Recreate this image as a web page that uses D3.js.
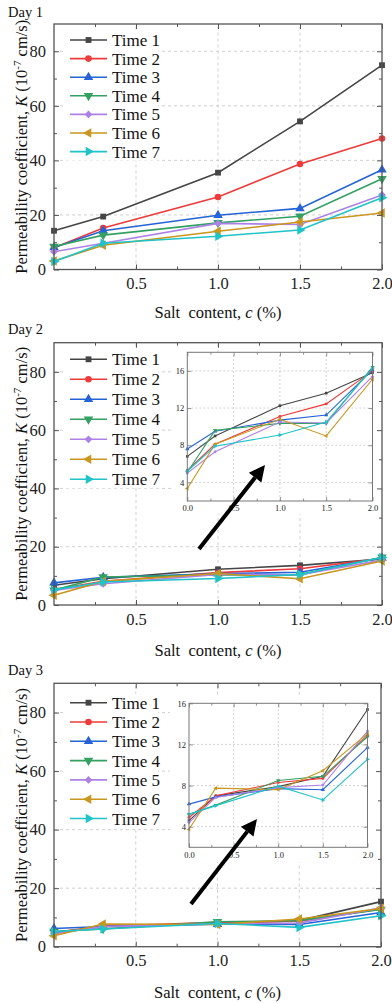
<!DOCTYPE html>
<html><head><meta charset="utf-8">
<script src="https://cdn.jsdelivr.net/npm/d3@7"></script>
<style>body{margin:0;background:#fff}svg{display:block}</style>
</head><body>
<svg id="fig" width="392" height="1003"></svg>
<script>
// Salt content (%) at which each permeability test was run
const saltContent = [0, 0.3, 1.0, 1.5, 2.0];
const seriesNames = ["Time 1", "Time 2", "Time 3", "Time 4", "Time 5", "Time 6", "Time 7"];
const seriesColors = ["#454545", "#ee3a3a", "#2563d6", "#34a062", "#ad82e6", "#c9961e", "#1fc3c8"];

// Permeability coefficient K (1e-7 cm/s), one row per test time
const day1K = [
  [14.2, 19.4, 35.5, 54.3, 74.9],
  [8.0, 15.2, 26.6, 38.7, 48.0],
  [8.1, 14.2, 19.9, 22.4, 36.6],
  [8.4, 12.6, 17.1, 19.5, 33.3],
  [6.5, 9.6, 16.9, 16.5, 27.3],
  [3.1, 8.9, 14.0, 17.4, 20.7],
  [2.9, 9.6, 12.2, 14.5, 26.3]
];
const day2K = [
  [6.8, 9.0, 12.25, 13.6, 15.8],
  [5.3, 8.1, 11.1, 12.45, 16.0],
  [7.6, 9.5, 10.7, 11.25, 16.1],
  [5.1, 9.6, 10.35, 10.35, 16.4],
  [5.0, 7.3, 10.5, 10.4, 15.4],
  [3.35, 8.1, 10.8, 9.0, 15.1],
  [5.2, 7.9, 9.1, 10.5, 16.3]
];
const day3K = [
  [4.6, 7.0, 7.9, 8.9, 15.4],
  [4.9, 7.0, 8.3, 8.7, 12.9],
  [6.2, 6.9, 7.7, 7.6, 11.7],
  [5.2, 6.1, 8.5, 8.9, 12.75],
  [4.4, 6.85, 7.8, 8.05, 13.3],
  [3.75, 7.75, 7.6, 9.45, 13.05],
  [5.2, 6.05, 7.95, 6.6, 10.55]
];

const xTicks = [0.5, 1.0, 1.5, 2.0];
const yTicks = [0, 20, 40, 60, 80];
const insetXTicks = [0.0, 0.5, 1.0, 1.5, 2.0];
const insetYTicks = [4, 8, 12, 16];

const FONT = "'Liberation Serif','Times New Roman',serif";
const svg = d3.select("#fig");

const markers = [
  {type: d3.symbolSquare, rot: 0, k: 1.0},
  {type: d3.symbolCircle, rot: 0, k: 1.0},
  {type: d3.symbolTriangle, rot: 0, k: 1.15},
  {type: d3.symbolTriangle, rot: 180, k: 1.15},
  {type: d3.symbolSquare, rot: 45, k: 0.9},
  {type: d3.symbolTriangle, rot: -90, k: 1.15},
  {type: d3.symbolTriangle, rot: 90, k: 1.15}
];

function drawSeries(g, data, x, y, lineW, markSize) {
  data.forEach((vals, i) => {
    const pts = saltContent.map((c, j) => [c, vals[j]]);
    g.append("path")
      .attr("d", d3.line().x(d => x(d[0])).y(d => y(d[1]))(pts))
      .attr("fill", "none").attr("stroke", seriesColors[i]).attr("stroke-width", lineW);
    const m = markers[i];
    g.selectAll(null).data(pts).join("path")
      .attr("d", d3.symbol(m.type, markSize * m.k)())
      .attr("transform", d => `translate(${x(d[0])},${y(d[1])}) rotate(${m.rot})`)
      .attr("fill", seriesColors[i]);
  });
}

function frameAxes(g, x, y, opt) {
  const [x0, x1] = x.range(), [y0, y1] = y.range();
  const styleAxis = sel => {
    sel.select(".domain").remove();
    sel.selectAll(".tick line").attr("stroke", opt.axisColor).attr("stroke-width", opt.tickW);
    sel.selectAll("text").attr("font-family", FONT).attr("font-size", opt.fontSize).attr("fill", "#222");
  };
  const major = opt.tick, minor = opt.tick * 0.6;
  g.append("g").attr("transform", `translate(0,${y0})`)
    .call(d3.axisBottom(x).tickValues(opt.xTicks).tickFormat(d3.format(".1f")).tickSize(-major).tickSizeOuter(0).tickPadding(opt.xPad)).call(styleAxis);
  g.append("g").attr("transform", `translate(0,${y0})`)
    .call(d3.axisBottom(x).tickValues(opt.xMinor).tickFormat("").tickSize(-minor).tickSizeOuter(0)).call(styleAxis);
  g.append("g").attr("transform", `translate(${x0},0)`)
    .call(d3.axisLeft(y).tickValues(opt.yTicks).tickSize(-major).tickSizeOuter(0).tickPadding(opt.yPad)).call(styleAxis);
  g.append("g").attr("transform", `translate(${x0},0)`)
    .call(d3.axisLeft(y).tickValues(opt.yMinor).tickFormat("").tickSize(-minor).tickSizeOuter(0)).call(styleAxis);
  g.append("g").attr("transform", `translate(0,${y1})`)
    .call(d3.axisTop(x).tickValues(opt.xTicks).tickFormat("").tickSize(-major).tickSizeOuter(0)).call(styleAxis);
  g.append("g").attr("transform", `translate(0,${y1})`)
    .call(d3.axisTop(x).tickValues(opt.xMinor).tickFormat("").tickSize(-minor).tickSizeOuter(0)).call(styleAxis);
  g.append("g").attr("transform", `translate(${x1},0)`)
    .call(d3.axisRight(y).tickValues(opt.yTicks).tickFormat("").tickSize(-major).tickSizeOuter(0)).call(styleAxis);
  g.append("g").attr("transform", `translate(${x1},0)`)
    .call(d3.axisRight(y).tickValues(opt.yMinor).tickFormat("").tickSize(-minor).tickSizeOuter(0)).call(styleAxis);
  g.append("rect").attr("x", x0).attr("y", y1).attr("width", x1 - x0).attr("height", y0 - y1)
    .attr("fill", "none").attr("stroke", opt.axisColor).attr("stroke-width", opt.frameW);
}

function grid(g, x, y, gx, gy, color, dash) {
  const [x0, x1] = x.range(), [y0, y1] = y.range();
  g.selectAll(null).data(gx).join("line")
    .attr("x1", d => x(d)).attr("x2", d => x(d)).attr("y1", y0).attr("y2", y1)
    .attr("stroke", color).attr("stroke-width", 0.8).attr("stroke-dasharray", dash);
  g.selectAll(null).data(gy).join("line")
    .attr("y1", d => y(d)).attr("y2", d => y(d)).attr("x1", x0).attr("x2", x1)
    .attr("stroke", color).attr("stroke-width", 0.8).attr("stroke-dasharray", dash);
}

function drawPanel(p) {
  const g = svg.append("g");
  const x = d3.scaleLinear().domain([0, 2]).range([p.left, p.right]);
  const y = d3.scaleLinear().domain([0, 90]).range([p.bottom, p.top]);

  g.append("text").attr("x", 8).attr("y", p.dayY).text(p.day)
    .attr("font-family", FONT).attr("font-size", 14.5).attr("fill", "#111");

  grid(g, x, y, [0.5, 1.0, 1.5], [20, 40, 60, 80], "#c4c4c4", "3,3");

  // legend
  const lg = g.append("g");
  lg.append("rect").attr("x", 66).attr("y", p.legY - 9).attr("width", 92)
    .attr("height", p.legStep * 6 + 18).attr("fill", "#fff");
  seriesNames.forEach((name, i) => {
    const yy = p.legY + i * p.legStep;
    lg.append("line").attr("x1", 70).attr("x2", 107).attr("y1", yy).attr("y2", yy)
      .attr("stroke", seriesColors[i]).attr("stroke-width", 1.6);
    const m = markers[i];
    lg.append("path").attr("d", d3.symbol(m.type, 34 * m.k)())
      .attr("transform", `translate(88.5,${yy}) rotate(${m.rot})`).attr("fill", seriesColors[i]);
    lg.append("text").attr("x", 112).attr("y", yy + 6).text(name)
      .attr("font-family", FONT).attr("font-size", 17).attr("fill", "#111");
  });

  drawSeries(g, p.data, x, y, 1.6, 34);

  if (p.inset) {
    const s = p.inset;
    g.append("rect").attr("x", s.box[0]).attr("y", s.box[1]).attr("width", s.box[2] - s.box[0])
      .attr("height", s.box[3] - s.box[1]).attr("fill", "#fff");
    const ix = d3.scaleLinear().domain([0, 2]).range([s.left, s.right]);
    const iy = d3.scaleLinear().domain(s.yDomain).range([s.bottom, s.top]);
    const ig = g.append("g");
    grid(ig, ix, iy, [0.5, 1.0, 1.5], insetYTicks.filter(v => v < s.yDomain[1]), "#c8c8c8", "2,2");
    drawSeries(ig, p.data, ix, iy, 1.1, 7);
    frameAxes(ig, ix, iy, {
      xTicks: insetXTicks, xMinor: [0.25, 0.75, 1.25, 1.75],
      yTicks: insetYTicks, yMinor: d3.range(s.yDomain[0] + 4, s.yDomain[1], 4).map(v => v - 2).filter(v => v % 4 !== 0),
      tick: 4, tickW: 0.8, axisColor: "#777", frameW: 1, fontSize: 8.5, xPad: s.xPad, yPad: 3
    });
  }

  frameAxes(g, x, y, {
    xTicks: xTicks, xMinor: [0.25, 0.75, 1.25, 1.75],
    yTicks: yTicks, yMinor: [10, 30, 50, 70],
    tick: 5, tickW: 1, axisColor: "#555", frameW: 1.3, fontSize: 16.5, xPad: 8, yPad: 8
  });

  // axis titles
  const yt = g.append("text")
    .attr("transform", `translate(27,${(p.top + p.bottom) / 2}) rotate(-90)`)
    .attr("text-anchor", "middle").attr("font-family", FONT).attr("font-size", 16.5).attr("fill", "#111");
  yt.append("tspan").text("Permeability coefficient, ");
  yt.append("tspan").attr("font-style", "italic").text("K");
  yt.append("tspan").text(" (10");
  yt.append("tspan").attr("dy", -6).attr("font-size", 11).text("-7");
  yt.append("tspan").attr("dy", 6).text(" cm/s)");

  const xt = g.append("text").attr("x", (p.left + p.right) / 2).attr("y", p.xTitleY)
    .attr("text-anchor", "middle").attr("font-family", FONT).attr("font-size", 16.5)
    .attr("fill", "#111").style("white-space", "pre");
  xt.append("tspan").text("Salt  content, ");
  xt.append("tspan").attr("font-style", "italic").text("c");
  xt.append("tspan").text(" (%)");

  if (p.arrow) {
    const [ax0, ay0, ax1, ay1] = p.arrow;
    const ang = Math.atan2(ay1 - ay0, ax1 - ax0);
    const L = 16, W = 8;
    const bx = ax1 - L * Math.cos(ang), by = ay1 - L * Math.sin(ang);
    g.append("line").attr("x1", ax0).attr("y1", ay0).attr("x2", bx).attr("y2", by)
      .attr("stroke", "#000").attr("stroke-width", 4);
    const nx = -Math.sin(ang), ny = Math.cos(ang);
    g.append("path").attr("d", `M${ax1},${ay1}L${bx + W * nx},${by + W * ny}L${bx - W * nx},${by - W * ny}Z`)
      .attr("fill", "#000");
  }
}

drawPanel({day: "Day 1", dayY: 17, data: day1K, left: 54, right: 382, top: 24, bottom: 269.5,
  legY: 40, legStep: 18.6, xTitleY: 318});
drawPanel({day: "Day 2", dayY: 333.5, data: day2K, left: 54, right: 382, top: 342.7, bottom: 605,
  legY: 359.3, legStep: 20, xTitleY: 656,
  inset: {left: 187.3, right: 372.5, top: 352.3, bottom: 501, yDomain: [2, 18], xPad: 4,
          box: [172, 352, 381, 514]},
  arrow: [199, 549, 265, 465]});
drawPanel({day: "Day 3", dayY: 675, data: day3K, left: 54, right: 381, top: 683.3, bottom: 946.7,
  legY: 702.7, legStep: 19.3, xTitleY: 998,
  inset: {left: 189, right: 367.5, top: 703.3, bottom: 847.3, yDomain: [2, 16], xPad: 5,
          box: [170, 697, 380, 862]},
  arrow: [191, 904, 257, 819]});
</script>
</body></html>
